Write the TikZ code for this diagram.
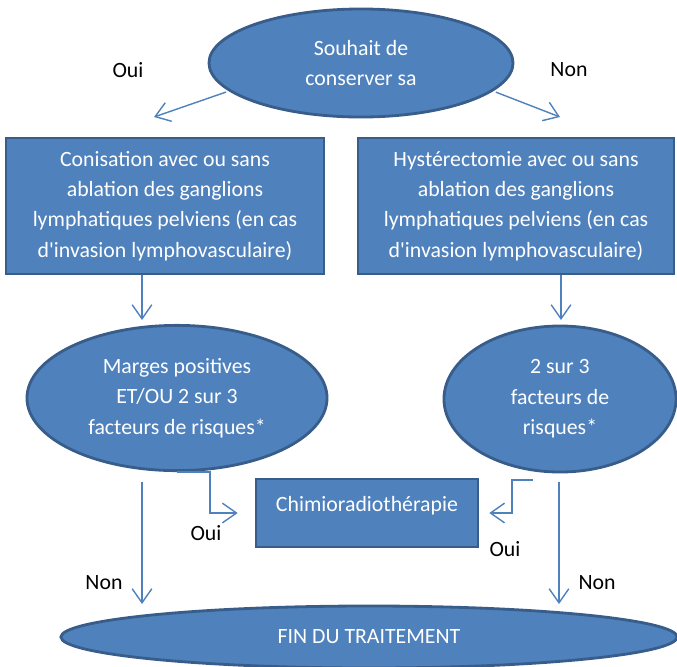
\documentclass[tikz,border=0pt]{standalone}
\usepackage{fontspec}
\setmainfont{Carlito}
\usetikzlibrary{shapes.geometric,arrows.meta}
\definecolor{boxfill}{HTML}{4F81BD}
\definecolor{boxline}{HTML}{385D8A}
\tikzset{
    bloc/.style={draw=boxline, line width=2pt, fill=boxfill, text=white, align=center, inner sep=0pt, font=\fontsize{15.5}{21.6}\selectfont},
    ovale/.style={bloc, ellipse},
    carre/.style={bloc, rectangle},
    fleche/.style={draw=boxfill, line width=1pt, -{Straight Barb[length=10pt,width=14pt]}},
    reponse/.style={font=\fontsize{15.5}{18}\selectfont}
}

\begin{document}
\begin{tikzpicture}[x=0.025cm, y=-0.025cm]
    \useasboundingbox (0,0) rectangle (677,666);

    % Question at the top
    \node[ovale, minimum width=7.6cm, minimum height=2.7cm] (souhait) at (361,63) {Souhait de\\conserver sa};

    % Treatment boxes
    \node[carre, minimum width=7.95cm, minimum height=3.4cm] (conisation) at (165,206)
        {Conisation avec ou sans\\ablation des ganglions\\lymphatiques pelviens (en cas\\d\textquotesingle invasion lymphovasculaire)};
    \node[carre, minimum width=7.9cm, minimum height=3.4cm] (hysterectomie) at (516,206)
        {Hystérectomie avec ou sans\\ablation des ganglions\\lymphatiques pelviens (en cas\\d\textquotesingle invasion lymphovasculaire)};

    % Risk ellipses
    \node[ovale, minimum width=7.5cm, minimum height=3.63cm] (marges) at (177,398)
        {Marges positives\\ET/OU 2 sur 3\\facteurs de risques*};
    \node[ovale, minimum width=5.8cm, minimum height=3.65cm] (facteurs) at (560,399)
        {2 sur 3\\facteurs de\\risques*};

    % Chimio box and end
    \node[carre, minimum width=5.55cm, minimum height=1.7cm,
          label={[white, font=\fontsize{15.5}{18}\selectfont, yshift=5.5pt]center:Chimioradiothérapie}] (chimio) at (367,513) {};
    \node[ovale, minimum width=15.4cm, minimum height=1.55cm] (fin) at (369,637) {FIN DU TRAITEMENT};

    % Free ends of the arrows
    \coordinate (g1) at (154,117);
    \coordinate (d1) at (560,117);
    \coordinate (g2) at (142,320);
    \coordinate (d2) at (561,320);
    \coordinate (g3) at (142,604);
    \coordinate (d3) at (559,604);
    \coordinate (coudeg) at (210,513);
    \coordinate (couded) at (512,513);
    \coordinate (departd) at (533,480);

    % Arrows
    \draw[fleche, shorten <=2pt] (souhait.192) -- (g1);
    \draw[fleche, shorten <=2pt] (souhait.-12) -- (d1);
    \draw[fleche] (conisation.south -| g2) -- (g2);
    \draw[fleche] (hysterectomie.south -| d2) -- (d2);
    \draw[fleche, shorten <=7pt] (marges.south -| g3) -- (g3);
    \draw[fleche, shorten <=6pt] (facteurs.south -| d3) -- (d3);
    \draw[fleche, shorten >=12pt] (marges.south) -| (coudeg) -- (chimio.west);
    \draw[fleche, shorten >=7pt] (departd) -| (couded) -- (chimio.east);

    % Answers
    \node[reponse] (oui1) at (128,70) {Oui};
    \node[reponse] (non1) at (569,70) {Non};
    \node[reponse] (oui2) at (206,533) {Oui};
    \node[reponse] (oui3) at (505,549) {Oui};
    \node[reponse] (non2) at (104,583) {Non};
    \node[reponse] (non3) at (597,583) {Non};

\end{tikzpicture}
\end{document}
